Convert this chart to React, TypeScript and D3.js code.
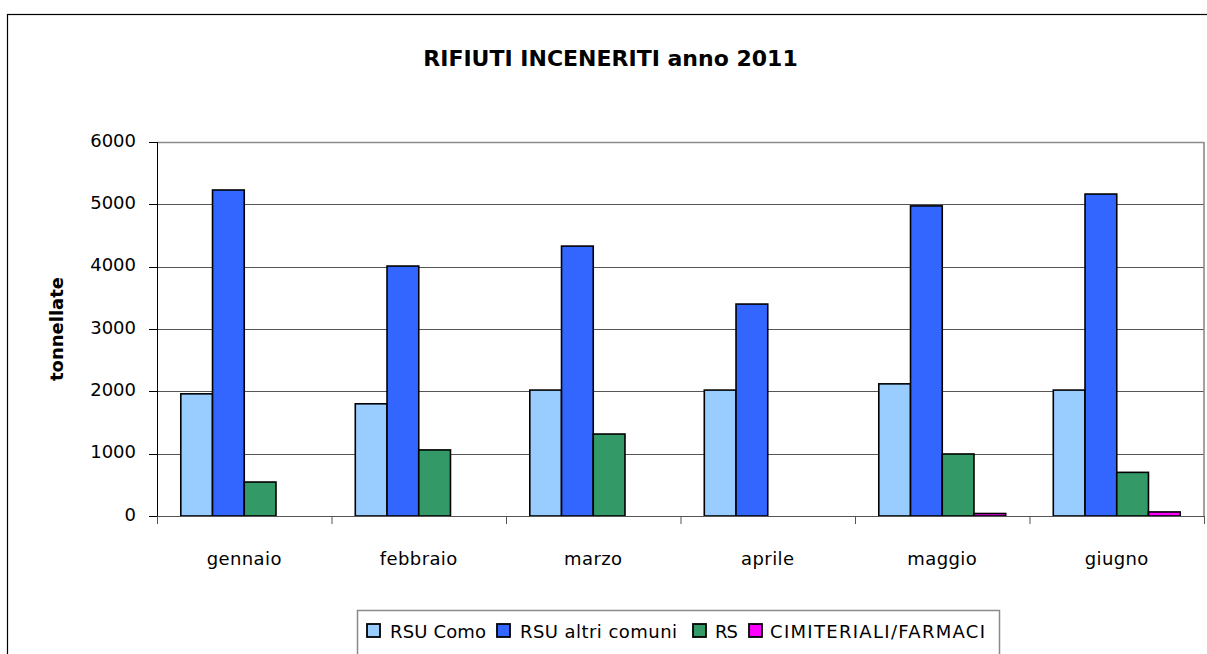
import React from "react";
import * as d3 from "d3";

const categories = ["gennaio", "febbraio", "marzo", "aprile", "maggio", "giugno"];
const seriesNames = ["RSU Como", "RSU altri comuni", "RS", "CIMITERIALI/FARMACI"];
const rsuComo = [1960, 1800, 2020, 2020, 2120, 2020];
const rsuAltri = [5230, 4010, 4330, 3400, 4975, 5165];
const rs = [545, 1060, 1315, 0, 995, 700];
const cimiteriali = [0, 0, 0, 0, 40, 65];
const seriesColors = ["#99CCFF", "#3366FF", "#339966", "#FF00FF"];
const yTicks = [0, 1000, 2000, 3000, 4000, 5000, 6000];
const title = "RIFIUTI INCENERITI anno 2011";
const yLabel = "tonnellate";

const W = 1207;
const H = 654;
const plot = { left: 157, right: 1204, top: 142, bottom: 516 };
const FONT = "'DejaVu Sans', Verdana, sans-serif";

export default function App() {
  const seriesValues = [rsuComo, rsuAltri, rs, cimiteriali];
  const x0 = d3.scaleBand<string>().domain(categories).range([plot.left, plot.right]).padding(0);
  const x1 = d3
    .scaleBand<string>()
    .domain(seriesNames)
    .range([0, x0.bandwidth()])
    .paddingInner(0)
    .paddingOuter(0.75);
  const y = d3.scaleLinear().domain([0, 6000]).range([plot.bottom, plot.top]);

  const legendItems = [
    { sx: 367, tx: 390, tl: 96 },
    { sx: 497, tx: 520, tl: 157 },
    { sx: 693, tx: 715, tl: 23 },
    { sx: 749, tx: 770, tl: 215 },
  ];

  return (
    <svg
      width={W}
      height={H}
      style={{ position: "fixed", left: 0, top: 0, background: "#fff" }}
      fontFamily={FONT}
    >
      <rect x={0} y={0} width={W} height={H} fill="#fff" />
      {/* outer border */}
      <rect x={7.5} y={14.5} width={W + 20} height={H + 20} fill="none" stroke="#000" strokeWidth={1.2} />

      {/* title */}
      <text x={610.5} y={65.5} textAnchor="middle" fontWeight="bold" fontSize={22} fill="#000">
        {title}
      </text>

      {/* gridlines */}
      {yTicks.map((t) => (
        <line
          key={"g" + t}
          x1={plot.left}
          x2={plot.right}
          y1={Math.round(y(t)) + 0.5}
          y2={Math.round(y(t)) + 0.5}
          stroke={t === 6000 ? "#8a8a8a" : "#555"}
          strokeWidth={t === 6000 ? 1.6 : 1}
        />
      ))}
      {/* plot right border */}
      <line x1={plot.right} x2={plot.right} y1={plot.top} y2={plot.bottom} stroke="#8a8a8a" strokeWidth={1.6} />

      {/* bars */}
      {categories.map((c, ci) => (
        <g key={c} transform={`translate(${x0(c)},0)`}>
          {seriesNames.map((s, si) => {
            const v = seriesValues[si][ci];
            if (!v) return null;
            return (
              <rect
                key={s}
                x={x1(s)}
                y={y(v)}
                width={x1.bandwidth()}
                height={plot.bottom - y(v)}
                fill={seriesColors[si]}
                stroke="#000"
                strokeWidth={1.6}
              />
            );
          })}
        </g>
      ))}

      {/* y axis */}
      <line x1={plot.left + 0.5} x2={plot.left + 0.5} y1={plot.top} y2={plot.bottom} stroke="#000" strokeWidth={1} />
      {yTicks.map((t) => (
        <g key={"t" + t}>
          <line x1={plot.left - 8} x2={plot.left} y1={Math.round(y(t)) + 0.5} y2={Math.round(y(t)) + 0.5} stroke="#000" />
          <text x={136} y={y(t) + 4.5} textAnchor="end" fontSize={18} fill="#000">
            {t}
          </text>
        </g>
      ))}

      {/* x axis */}
      <line x1={plot.left} x2={plot.right} y1={plot.bottom + 0.5} y2={plot.bottom + 0.5} stroke="#555" strokeWidth={1.2} />
      {[...categories.map((c) => x0(c) as number), plot.right].map((xv, i) => (
        <line key={"xt" + i} x1={xv + 0.5} x2={xv + 0.5} y1={plot.bottom} y2={plot.bottom + 8} stroke="#555" />
      ))}
      {categories.map((c) => (
        <text
          key={"xl" + c}
          x={(x0(c) as number) + x0.bandwidth() / 2}
          y={565}
          textAnchor="middle"
          fontSize={18}
          letterSpacing={0.4}
          fill="#000"
        >
          {c}
        </text>
      ))}

      {/* y label */}
      <text
        transform={`translate(63,${(plot.top + plot.bottom) / 2}) rotate(-90)`}
        textAnchor="middle"
        fontWeight="bold"
        fontSize={18}
        fill="#000"
      >
        {yLabel}
      </text>

      {/* legend */}
      <rect x={357.5} y={610.5} width={642} height={80} fill="#fff" stroke="#8a8a8a" strokeWidth={1.5} />
      {seriesNames.map((s, i) => (
        <g key={"lg" + s}>
          <rect
            x={legendItems[i].sx}
            y={624}
            width={13}
            height={13}
            fill={seriesColors[i]}
            stroke="#000"
            strokeWidth={1.8}
          />
          <text
            x={legendItems[i].tx}
            y={638}
            fontSize={18}
            fill="#000"
            textLength={legendItems[i].tl}
            lengthAdjust="spacing"
          >
            {s}
          </text>
        </g>
      ))}
    </svg>
  );
}
